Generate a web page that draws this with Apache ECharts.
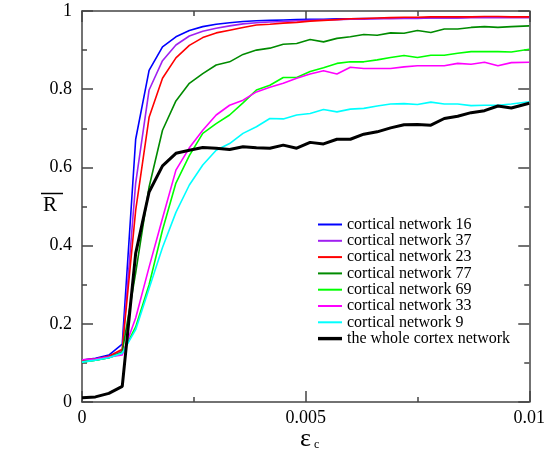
<!DOCTYPE html>
<html>
<head>
<meta charset="utf-8">
<script src="https://cdn.jsdelivr.net/npm/echarts@6/dist/echarts.min.js"></script>
<style>
  html, body { margin: 0; padding: 0; background: #fff; }
  #chart { width: 548px; height: 458px; }
</style>
</head>
<body>
<div id="chart"></div>
<script>
// coupling strength values (epsilon_c)
const epsC = [0, 0.0003, 0.0006, 0.0009, 0.0012, 0.0015, 0.0018, 0.0021, 0.0024, 0.0027,
  0.003, 0.0033, 0.0036, 0.0039, 0.0042, 0.0045, 0.0048, 0.0051, 0.0054, 0.0057,
  0.006, 0.0063, 0.0066, 0.0069, 0.0072, 0.0075, 0.0078, 0.0081, 0.0084, 0.0087,
  0.009, 0.0093, 0.0096, 0.01];

// mean order parameter R for each network
const net16 = [0.107, 0.112, 0.120, 0.148, 0.672, 0.848, 0.908, 0.934, 0.950, 0.960, 0.966, 0.970, 0.973,
  0.975, 0.976, 0.977, 0.978, 0.979, 0.979, 0.980, 0.980, 0.981, 0.981, 0.982, 0.982, 0.982, 0.983, 0.983,
  0.983, 0.984, 0.984, 0.984, 0.984, 0.985];
const net37 = [0.107, 0.110, 0.116, 0.132, 0.560, 0.798, 0.873, 0.913, 0.936, 0.948, 0.956, 0.962, 0.967,
  0.970, 0.972, 0.973, 0.975, 0.976, 0.977, 0.978, 0.979, 0.979, 0.980, 0.980, 0.981, 0.981, 0.982, 0.982,
  0.982, 0.983, 0.983, 0.983, 0.983, 0.983];
const net23 = [0.107, 0.110, 0.117, 0.135, 0.490, 0.728, 0.828, 0.880, 0.912, 0.932, 0.944, 0.951, 0.958,
  0.964, 0.966, 0.969, 0.971, 0.974, 0.976, 0.978, 0.980, 0.981, 0.982, 0.983, 0.984, 0.984, 0.985, 0.985,
  0.985, 0.985, 0.986, 0.986, 0.985, 0.985];
const net77 = [0.103, 0.107, 0.113, 0.128, 0.330, 0.550, 0.695, 0.770, 0.815, 0.840, 0.862, 0.870, 0.889,
  0.900, 0.905, 0.915, 0.917, 0.927, 0.921, 0.930, 0.934, 0.940, 0.938, 0.944, 0.943, 0.950, 0.945, 0.954,
  0.954, 0.958, 0.960, 0.958, 0.960, 0.962];
const net69 = [0.102, 0.107, 0.113, 0.125, 0.192, 0.300, 0.440, 0.560, 0.630, 0.687, 0.712, 0.734, 0.765,
  0.798, 0.810, 0.830, 0.830, 0.845, 0.855, 0.866, 0.870, 0.870, 0.875, 0.881, 0.886, 0.881, 0.887, 0.887,
  0.892, 0.896, 0.896, 0.896, 0.895, 0.902];
const net33 = [0.108, 0.110, 0.115, 0.120, 0.215, 0.345, 0.470, 0.593, 0.650, 0.695, 0.734, 0.759, 0.772,
  0.793, 0.805, 0.815, 0.828, 0.839, 0.847, 0.839, 0.856, 0.853, 0.853, 0.853, 0.857, 0.860, 0.860, 0.860,
  0.866, 0.864, 0.869, 0.860, 0.868, 0.869];
const net9 = [0.102, 0.107, 0.113, 0.125, 0.185, 0.290, 0.395, 0.485, 0.555, 0.606, 0.644, 0.661, 0.687,
  0.704, 0.725, 0.724, 0.734, 0.738, 0.748, 0.742, 0.749, 0.751, 0.757, 0.762, 0.763, 0.761, 0.767, 0.762,
  0.762, 0.758, 0.759, 0.759, 0.762, 0.768];
const wholeCortex = [0.011, 0.013, 0.022, 0.040, 0.380, 0.537, 0.604, 0.636, 0.644, 0.651, 0.649, 0.646, 0.653,
  0.650, 0.649, 0.657, 0.649, 0.664, 0.660, 0.672, 0.672, 0.685, 0.691, 0.701, 0.709, 0.710, 0.708, 0.725,
  0.731, 0.740, 0.745, 0.757, 0.752, 0.764];

const seriesDefs = [
  { name: 'cortical network 16', values: net16, color: '#0000ff', width: 1.6 },
  { name: 'cortical network 37', values: net37, color: '#a020f0', width: 1.6 },
  { name: 'cortical network 23', values: net23, color: '#ff0000', width: 1.6 },
  { name: 'cortical network 77', values: net77, color: '#008b00', width: 1.6 },
  { name: 'cortical network 69', values: net69, color: '#00ff00', width: 1.6 },
  { name: 'cortical network 33', values: net33, color: '#ff00ff', width: 1.6 },
  { name: 'cortical network 9', values: net9, color: '#00ffff', width: 1.6 },
  { name: 'the whole cortex network', values: wholeCortex, color: '#000000', width: 3 }
];

const serif = '"Liberation Serif", "DejaVu Serif", serif';
const frame = '#444';

function frameAxis(extra) {
  return Object.assign({
    axisLine: { show: true, onZero: false, lineStyle: { color: frame, width: 1.5 } },
    axisTick: { show: true, inside: true, length: 11, lineStyle: { color: frame, width: 1.5 } },
    minorTick: { show: true, splitNumber: 2, length: 5, lineStyle: { color: frame, width: 1.5 } },
    splitLine: { show: false },
    minorSplitLine: { show: false }
  }, extra);
}

// legend sample: a short horizontal stroke, thicker for the whole-cortex line
function legendStroke(w) {
  return 'path://M0,0 L24,0 L24,' + w + ' L0,' + w + ' Z';
}

const chart = echarts.init(document.getElementById('chart'), null, { renderer: 'canvas' });

chart.setOption({
  animation: false,
  backgroundColor: '#fff',
  grid: { left: 82, right: 16, top: 11, bottom: 56, containLabel: false },
  legend: {
    orient: 'vertical',
    left: 313,
    top: 211.5,
    itemWidth: 24,
    itemHeight: 14,
    itemGap: 0.3,
    textStyle: { fontFamily: serif, fontSize: 16, lineHeight: 16, color: '#000' },
    data: seriesDefs.map(d => ({
      name: d.name,
      icon: legendStroke(d.width > 2 ? 3.4 : 2),
      itemStyle: { color: d.color }
    }))
  },
  xAxis: [
    frameAxis({
      type: 'value', min: 0, max: 0.01, interval: 0.005, position: 'bottom',
      axisLabel: { fontFamily: serif, fontSize: 18, color: '#000', margin: 7,
        formatter: v => String(+v.toFixed(4)) }
    }),
    frameAxis({
      type: 'value', min: 0, max: 0.01, interval: 0.005, position: 'top',
      axisLabel: { show: false }
    })
  ],
  yAxis: [
    frameAxis({
      type: 'value', min: 0, max: 1, interval: 0.2, position: 'left',
      axisLabel: { fontFamily: serif, fontSize: 18, color: '#000', margin: 10,
        formatter: v => String(+v.toFixed(1)) }
    }),
    frameAxis({
      type: 'value', min: 0, max: 1, interval: 0.2, position: 'right',
      axisLabel: { show: false }
    })
  ],
  graphic: [
    // y-axis title: R with an overbar
    { type: 'text', left: 43, top: 195,
      style: { text: 'R', font: '21px ' + serif, fill: '#000' } },
    { type: 'line', shape: { x1: 41, y1: 193.5, x2: 63, y2: 193.5 },
      style: { stroke: '#000', lineWidth: 1.5 } },
    // x-axis title: epsilon with subscript c
    { type: 'text', left: 300, top: 426,
      style: { text: 'ε', font: '26px ' + serif, fill: '#000' } },
    { type: 'text', left: 314, top: 439,
      style: { text: 'c', font: '12px ' + serif, fill: '#000' } }
  ],
  series: seriesDefs.map(d => ({
    name: d.name,
    type: 'line',
    xAxisIndex: 0,
    yAxisIndex: 0,
    symbol: 'none',
    smooth: false,
    color: d.color,
    lineStyle: { color: d.color, width: d.width },
    data: epsC.map((x, i) => [x, d.values[i]])
  }))
});
</script>
</body>
</html>
